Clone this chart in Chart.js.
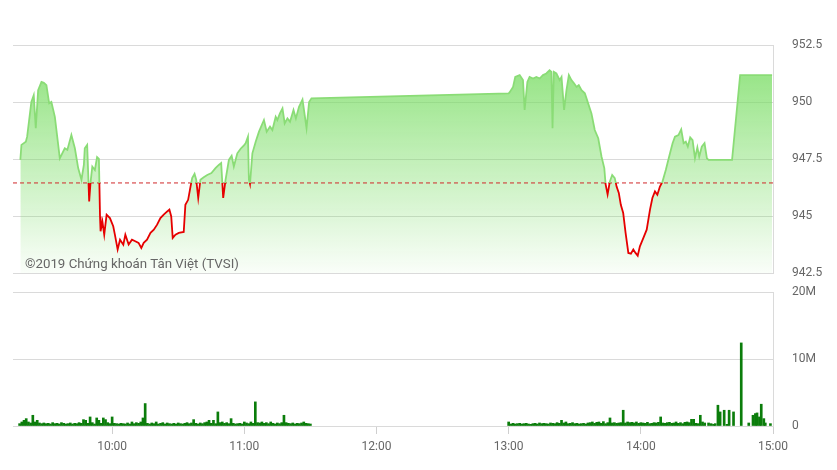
<!DOCTYPE html>
<html>
<head>
<meta charset="utf-8">
<script src="https://cdn.jsdelivr.net/npm/chart.js@4.4.1/dist/chart.umd.min.js"></script>
<style>
    html, body { margin: 0; padding: 0; background: #fff; }
    #wrap { position: relative; width: 837px; height: 470px; }
    #wrap canvas { position: absolute; left: 0; top: 0; }
    #credit { position: absolute; left: 25px; top: 256px; font: 13.3px Roboto, sans-serif; color: #666; white-space: nowrap; }
</style>
</head>
<body>
<div id="wrap">
    <canvas id="priceChart" width="837" height="470"></canvas>
    <canvas id="volumeChart" width="837" height="470"></canvas>
    <div id="credit">©2019 Chứng khoán Tân Việt (TVSI)</div>
</div>
<script>
// VN-Index intraday
const priceTimes = [
    '09:18:20', '09:18:50', '09:20:50', '09:21:25', '09:23:20', '09:24:25', '09:25:20', '09:26:25', '09:27:55', '09:29:00',
    '09:30:10', '09:31:25', '09:32:25', '09:34:00', '09:36:15', '09:38:30', '09:39:40', '09:41:30', '09:43:05', '09:44:35',
    '09:46:05', '09:47:10', '09:47:35', '09:48:40', '09:49:35', '09:50:10', '09:51:00', '09:52:10', '09:53:10', '09:54:00',
    '09:54:30', '09:54:45', '09:55:35', '09:56:25', '09:57:30', '09:59:00', '10:00:30', '10:01:15', '10:02:30', '10:03:35',
    '10:05:05', '10:06:00', '10:07:30', '10:09:00', '10:10:30', '10:12:00', '10:13:15', '10:14:20', '10:15:50', '10:17:25',
    '10:18:55', '10:20:25', '10:21:55', '10:23:25', '10:25:00', '10:26:00', '10:26:50', '10:27:30', '10:28:45', '10:30:15',
    '10:32:30', '10:33:15', '10:34:30', '10:35:35', '10:36:20', '10:37:25', '10:38:10', '10:39:05', '10:40:05', '10:41:35',
    '10:43:10', '10:45:05', '10:46:55', '10:48:25', '10:49:30', '10:50:25', '10:51:30', '10:53:00', '10:54:15', '10:55:15',
    '10:56:50', '10:58:20', '10:59:50', '11:00:35', '11:01:40', '11:02:05', '11:02:35', '11:03:40', '11:05:10', '11:06:40',
    '11:08:55', '11:10:10', '11:11:40', '11:12:45', '11:14:15', '11:15:00', '11:16:10', '11:17:20', '11:18:20', '11:19:35',
    '11:20:45', '11:22:20', '11:23:25', '11:24:50', '11:26:25', '11:27:05', '11:28:15', '11:29:25', '11:30:30', '13:00:00',
    '13:00:25', '13:02:00', '13:03:00', '13:05:00', '13:06:30', '13:07:15', '13:08:30', '13:09:30', '13:11:05', '13:12:35',
    '13:14:05', '13:15:35', '13:17:05', '13:18:35', '13:19:25', '13:19:55', '13:20:30', '13:21:40', '13:23:10', '13:24:00',
    '13:25:10', '13:26:15', '13:27:20', '13:28:30', '13:29:45', '13:30:50', '13:31:50', '13:33:05', '13:34:35', '13:36:05',
    '13:37:35', '13:39:05', '13:40:40', '13:42:10', '13:43:25', '13:44:00', '13:44:55', '13:45:55', '13:47:00', '13:48:10',
    '13:49:00', '13:50:00', '13:50:55', '13:52:00', '13:53:05', '13:54:20', '13:55:30', '13:56:35', '13:57:35', '13:58:35',
    '13:59:35', '14:01:10', '14:02:40', '14:04:10', '14:05:15', '14:06:25', '14:07:30', '14:08:40', '14:09:50', '14:11:20',
    '14:12:50', '14:14:25', '14:15:30', '14:17:05', '14:18:20', '14:19:25', '14:20:25', '14:21:20', '14:22:25', '14:23:30',
    '14:24:35', '14:25:40', '14:26:30', '14:27:40', '14:28:55', '14:30:00', '14:30:45', '14:41:25', '14:45:05', '14:59:35'
];
const priceValues = [
    947.46, 948.12, 948.26, 948.48, 950.00, 950.30, 948.85, 950.52, 950.88, 950.84,
    950.74, 949.94, 950.00, 949.35, 947.53, 947.97, 947.90, 948.55, 947.97, 947.10,
    946.59, 947.24, 947.97, 948.12, 945.64, 946.44, 947.17, 947.02, 947.58, 947.50,
    944.98, 944.33, 944.76, 944.18, 945.06, 944.91, 944.55, 944.18, 943.53, 943.96,
    943.74, 944.18, 943.75, 943.96, 943.89, 943.82, 943.60, 943.82, 943.96, 944.26,
    944.40, 944.62, 944.91, 945.06, 945.20, 945.28, 944.98, 944.04, 944.18, 944.26,
    944.30, 945.49, 945.71, 946.29, 946.66, 946.85, 946.59, 945.79, 946.59, 946.70,
    946.80, 946.88, 947.10, 947.24, 947.32, 945.79, 946.59, 947.46, 947.64, 947.17,
    947.75, 947.95, 948.10, 948.19, 948.48, 946.59, 946.40, 947.75, 948.26, 948.70,
    949.21, 948.70, 948.92, 948.77, 949.35, 949.21, 949.50, 949.72, 949.06, 949.28,
    949.13, 949.65, 949.28, 949.79, 950.11, 949.65, 948.85, 950.00, 950.16, 950.38,
    950.42, 950.66, 951.10, 951.18, 950.96, 949.65, 950.88, 951.10, 951.03, 951.10,
    951.03, 951.18, 951.25, 951.39, 951.32, 948.85, 951.32, 951.25, 950.96, 951.10,
    949.65, 950.52, 951.18, 950.96, 950.81, 950.66, 950.74, 950.52, 950.38, 949.94,
    949.50, 948.77, 948.41, 947.60, 947.10, 946.40, 945.95, 946.50, 946.80, 946.66,
    946.29, 946.01, 945.49, 945.13, 944.26, 943.38, 943.35, 943.53, 943.38, 943.26,
    943.67, 944.04, 944.40, 945.28, 945.79, 946.08, 945.93, 946.29, 946.51, 947.02,
    947.60, 948.19, 948.48, 948.55, 948.80, 948.19, 948.26, 948.04, 948.45, 948.33,
    947.53, 948.01, 947.60, 948.04, 948.19, 947.53, 947.46, 947.46, 951.18, 951.18
];
const refPrice = 946.45;

// volume in millions, one bar per minute from the start time
const volMorningStart = '09:18';
const volMorning = [
    0.35, 0.6, 0.85, 1.1, 0.6, 0.45, 1.6, 0.6, 0.85, 0.45, 0.35, 0.45, 0.35, 0.4, 0.3, 0.5, 0.35, 0.4, 0.3, 0.5,
    0.4, 0.3, 0.35, 0.45, 0.3, 0.4, 0.35, 0.5, 0.4, 0.95, 0.85, 0.4, 1.35, 0.5, 0.3, 1.2, 0.85, 0.4, 1.2, 0.95,
    0.5, 0.35, 1.35, 0.4, 0.35, 0.3, 0.4, 0.35, 0.3, 0.45, 0.3, 0.6, 0.35, 0.5, 0.4, 0.6, 1.2, 3.35, 0.4, 0.3,
    0.45, 0.35, 0.6, 0.3, 0.4, 0.5, 0.3, 0.45, 0.35, 0.3, 0.4, 0.3, 0.45, 0.35, 0.3, 0.4, 0.5, 0.35, 0.45, 0.95,
    0.4, 0.3, 0.45, 0.35, 0.5, 0.6, 0.85, 0.4, 0.85, 0.35, 2.1, 0.5, 0.6, 0.4, 0.5, 0.35, 1.1, 0.4, 0.3, 0.35,
    0.4, 0.3, 0.6, 0.45, 0.35, 0.6, 0.4, 3.6, 0.5, 0.45, 0.6, 0.4, 0.5, 0.35, 0.6, 0.4, 0.3, 0.45, 0.35, 0.5,
    1.6, 0.5, 0.4, 0.35, 0.45, 0.3, 0.4, 0.35, 0.45, 0.6, 0.4, 0.35, 0.3
];
const volAfternoonStart = '13:00';
const volAfternoon = [
    0.6, 0.3, 0.4, 0.3, 0.35, 0.4, 0.3, 0.35, 0.4, 0.3, 0.25, 0.35, 0.4, 0.3, 0.45, 0.35, 0.4, 0.35, 0.3, 0.45,
    0.4, 0.35, 0.5, 0.4, 0.85, 0.45, 0.6, 0.35, 0.4, 0.5, 0.35, 0.4, 0.3, 0.35, 0.4, 0.3, 0.45, 0.5, 0.6, 0.4,
    0.55, 0.6, 0.4, 0.65, 0.35, 0.5, 1.2, 0.45, 0.5, 0.4, 0.45, 0.5, 2.35, 0.45, 0.6, 0.5, 0.55, 0.45, 0.6, 0.4,
    0.5, 0.45, 0.4, 0.55, 0.35, 0.4, 0.5, 0.45, 0.55, 1.35, 0.45, 0.4, 0.5, 0.55, 0.4, 0.45, 0.6, 0.4, 0.5, 0.35,
    0.55, 0.6, 0.5, 1.0, 1.0, 0.4, 0.35, 1.6, 0.6, 0.45
];
const atcTimes = [
    '14:30:45', '14:31:55', '14:33:00', '14:33:45', '14:35:00', '14:36:00', '14:37:50', '14:39:05', '14:40:05', '14:42:05',
    '14:45:35', '14:49:00', '14:50:55', '14:52:00', '14:52:45', '14:53:50', '14:54:40', '14:55:50', '14:56:30', '14:58:50'
];
const atcVolumes = [
    0.45, 0.35, 0.25, 0.35, 3.1, 2.1, 2.35, 0.25, 2.35, 2.1,
    12.4, 0.45, 1.6, 1.85, 1.95, 1.35, 3.25, 1.1, 0.45, 0.35
];

const axisStart = '09:15';
const axisEnd = '15:00';
const hourTicks = ['10:00', '11:00', '12:00', '13:00', '14:00', '15:00'];
const priceTicks = [942.5, 945, 947.5, 950, 952.5];
const volumeTicks = [0, 10, 20];

const GREEN_LINE = 'rgb(138, 220, 118)';
const RED_LINE = '#e60000';
const GRID = '#dadada';
const LABEL = '#666';

function toMinutes(t) {
    const p = t.split(':').map(Number);
    return p[0] * 60 + p[1] + (p[2] || 0) / 60;
}

function formatHour(v) {
    const h = Math.floor(v / 60);
    const m = Math.round(v % 60);
    return h + ':' + String(m).padStart(2, '0');
}

Chart.defaults.font.family = 'Roboto';
Chart.defaults.font.size = 12;
Chart.defaults.color = LABEL;

const X_MIN = toMinutes(axisStart);
const X_MAX = toMinutes(axisEnd);

function xScale(showLabels) {
    return {
        type: 'linear',
        min: X_MIN,
        max: X_MAX,
        offset: false,
        display: showLabels,
        afterBuildTicks: (scale) => {
            scale.ticks = hourTicks.map(h => ({ value: toMinutes(h) }));
        },
        afterFit: (scale) => { scale.height = showLabels ? 28 : 0; },
        ticks: { callback: (v) => formatHour(v), maxRotation: 0, autoSkip: false, padding: 6 },
        grid: { offset: false, drawOnChartArea: false, drawTicks: true, tickLength: 8, color: '#cfcfcf' },
        border: { display: true, color: GRID }
    };
}

function yScale(min, max, tickValues, fmt) {
    return {
        position: 'right',
        min: min,
        max: max,
        afterBuildTicks: (scale) => {
            scale.ticks = tickValues.map(v => ({ value: v }));
        },
        afterFit: (scale) => { scale.width = 64; },
        ticks: { padding: 19, callback: fmt },
        grid: { color: GRID, drawTicks: false },
        border: { display: true, color: GRID }
    };
}

const pricePoints = priceTimes.map((t, i) => ({ x: toMinutes(t), y: priceValues[i] }));

new Chart(document.getElementById('priceChart'), {
    type: 'line',
    data: {
        datasets: [
            {
                label: 'VN-Index',
                data: pricePoints,
                tension: 0,
                pointRadius: 0,
                fill: 'start',
                borderWidth: 1.8,
                backgroundColor: (context) => {
                    const { ctx, chartArea } = context.chart;
                    if (!chartArea) return 'rgba(0,0,0,0)';
                    const g = ctx.createLinearGradient(0, chartArea.top, 0, chartArea.bottom);
                    g.addColorStop(0, 'rgba(118, 220, 96, 0.85)');
                    g.addColorStop(1, 'rgba(118, 220, 96, 0.04)');
                    return g;
                },
                borderColor: (context) => {
                    const { ctx, chartArea, scales } = context.chart;
                    if (!chartArea || !scales.y) return GREEN_LINE;
                    const yRef = scales.y.getPixelForValue(refPrice);
                    const r = Math.min(1, Math.max(0, (yRef - chartArea.top) / (chartArea.bottom - chartArea.top)));
                    const g = ctx.createLinearGradient(0, chartArea.top, 0, chartArea.bottom);
                    g.addColorStop(0, GREEN_LINE);
                    g.addColorStop(r, GREEN_LINE);
                    g.addColorStop(r, RED_LINE);
                    g.addColorStop(1, RED_LINE);
                    return g;
                }
            },
            {
                label: 'Reference',
                data: [{ x: X_MIN, y: refPrice }, { x: X_MAX, y: refPrice }],
                borderColor: '#d0282a',
                borderWidth: 1,
                borderDash: [4, 3],
                pointRadius: 0,
                fill: false
            }
        ]
    },
    options: {
        responsive: false,
        animation: false,
        layout: { padding: { left: 13, top: 45, bottom: 197, right: 0 } },
        plugins: {
            legend: { display: false },
            tooltip: { enabled: false },
            filler: { drawTime: 'beforeDatasetsDraw' }
        },
        scales: {
            x: xScale(false),
            y: yScale(942.5, 952.5, priceTicks, (v) => String(v))
        }
    }
});

const volumePoints = [
    ...volMorning.map((v, i) => ({ x: toMinutes(volMorningStart) + i, y: v })),
    ...volAfternoon.map((v, i) => ({ x: toMinutes(volAfternoonStart) + i, y: v })),
    ...atcTimes.map((t, i) => ({ x: toMinutes(t), y: atcVolumes[i] }))
];

new Chart(document.getElementById('volumeChart'), {
    type: 'bar',
    data: {
        datasets: [{
            label: 'Volume',
            data: volumePoints,
            backgroundColor: '#0b7d0b',
            barThickness: 2
        }]
    },
    options: {
        responsive: false,
        animation: false,
        layout: { padding: { left: 13, top: 292, bottom: 16, right: 0 } },
        plugins: {
            legend: { display: false },
            tooltip: { enabled: false }
        },
        scales: {
            x: xScale(true),
            y: yScale(0, 20, volumeTicks, (v) => (v === 0 ? '0' : v + 'M'))
        }
    }
});
</script>
</body>
</html>
